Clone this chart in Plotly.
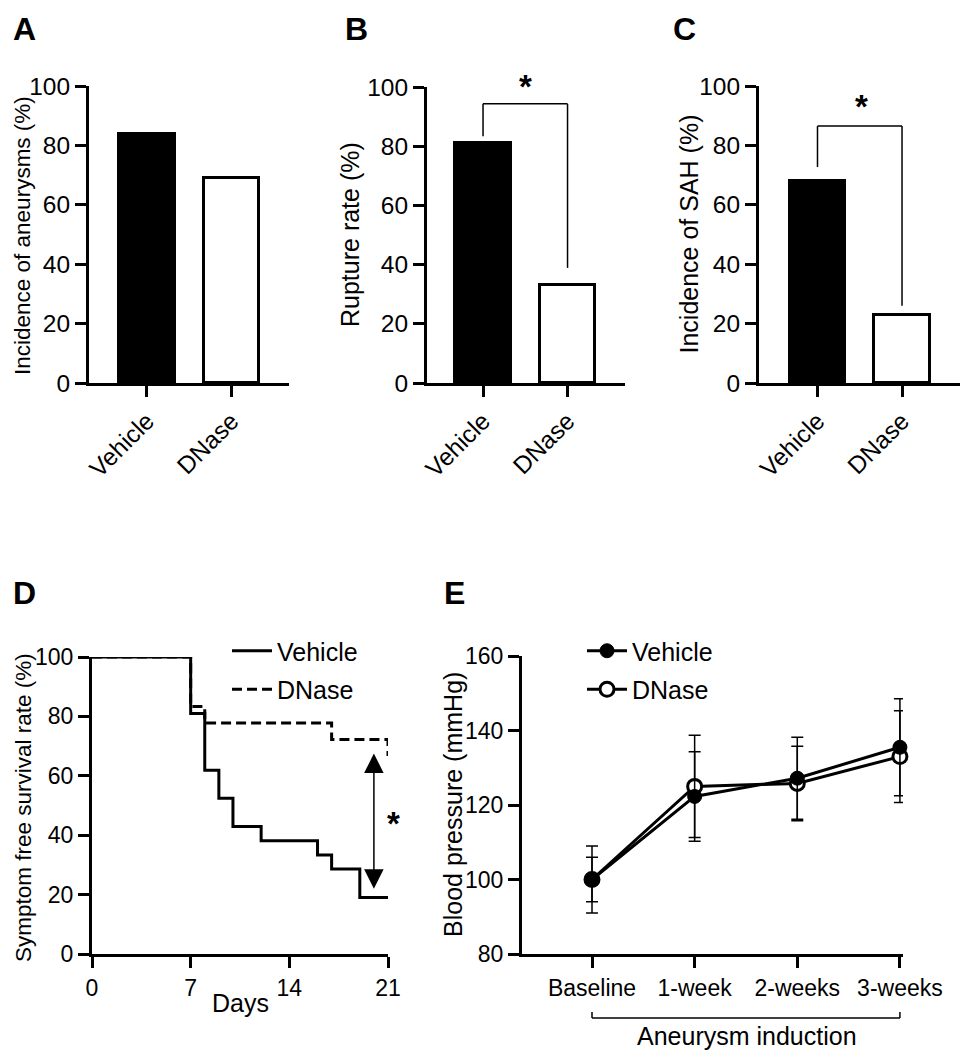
import plotly.graph_objects as go

# ---------------- data ----------------
groups = ["Vehicle", "DNase"]
aneurysm_incidence = [84, 69]
rupture_rate = [81, 33]
sah_incidence = [68, 23]

# significance brackets: [left leg bottom, top, right leg bottom] (% units)
bracket_B = [83.4, 94.3, 38.9]
bracket_C = [72.7, 86.5, 26.0]

vehicle_days = [0, 7, 8, 9, 10, 12, 16, 17, 19, 21]
vehicle_survival = [100, 81.0, 61.9, 52.4, 42.9, 38.1, 33.3, 28.6, 19.0, 19.0]
dnase_days = [0, 7, 8, 17, 21]
dnase_survival = [100, 83.3, 77.8, 72.2, 66.7]
day_ticks = [0, 7, 14, 21]
arrow_day = 20
arrow_span = [22, 68]

timepoints = ["Baseline", "1-week", "2-weeks", "3-weeks"]
bp_vehicle = [100, 122.3, 127.2, 135.5]
bp_vehicle_sd = [9, 12, 11, 13]
bp_dnase = [100, 125.0, 125.8, 133.0]
bp_dnase_sd = [6, 13.7, 10, 12.3]

# ---------------- helpers ----------------
W, H = 971, 1050
OFF = 8  # page body margin
FONT = "Liberation Sans, Arial, sans-serif"


def px(x):
    return (x - OFF) / W


def py(y):
    return 1 - (y - OFF) / H


def axis_style(size):
    return dict(
        showline=True, linecolor="black", linewidth=3, ticks="outside", ticklen=11,
        tickwidth=2.5, tickcolor="black", showgrid=False, zeroline=False,
        tickfont=dict(size=size, color="black", family=FONT), fixedrange=True,
    )


fig = go.Figure()

bar_panels = [
    (aneurysm_incidence, "x", "y", [89, 289], [86, 383], [-0.686, 1.68]),
    (rupture_rate, "x2", "y2", [427, 625], [87, 383], [-0.663, 1.68]),
    (sah_incidence, "x3", "y3", [759, 960], [86, 383], [-0.692, 1.686]),
]
layout_axes = {}
xpos = list(range(len(groups)))
for vals, xa, ya, xdom, ydom, xr in bar_panels:
    fig.add_trace(go.Bar(
        x=xpos, y=vals, width=0.66, xaxis=xa, yaxis=ya, showlegend=False,
        marker=dict(color=["black", "white"], line=dict(color="black", width=3)),
    ))
    xname = "xaxis" + xa[1:]
    yname = "yaxis" + ya[1:]
    layout_axes[xname] = dict(axis_style(24.5), domain=[px(xdom[0]), px(xdom[1])], range=xr,
                              tickvals=xpos, ticktext=groups, tickangle=-45, anchor=ya)
    layout_axes[yname] = dict(axis_style(24.5), domain=[py(ydom[1]), py(ydom[0])], range=[0, 100],
                              dtick=20, anchor=xa)

# ---- D: survival ----
fig.add_trace(go.Scatter(
    x=vehicle_days, y=vehicle_survival, mode="lines", line=dict(color="black", width=3, shape="hv"),
    name="Vehicle", xaxis="x4", yaxis="y4", legend="legend", legendgroup="v", legendrank=1,
    cliponaxis=False,
))
fig.add_trace(go.Scatter(
    x=dnase_days, y=dnase_survival, mode="lines",
    line=dict(color="black", width=3, shape="hv", dash="10px,5px"),
    name="DNase", xaxis="x4", yaxis="y4", legend="legend", legendgroup="d", legendrank=2,
    cliponaxis=False,
))
layout_axes["xaxis4"] = dict(axis_style(23), domain=[px(92), px(388)], range=[0, 21],
                             tickvals=day_ticks, anchor="y4")
layout_axes["yaxis4"] = dict(axis_style(23), domain=[py(954), py(657)], range=[0, 100],
                             dtick=20, anchor="x4")

# ---- E: blood pressure ----
tpos = list(range(len(timepoints)))
fig.add_trace(go.Scatter(
    x=tpos, y=bp_dnase, mode="lines+markers", name="DNase",
    line=dict(color="black", width=3),
    marker=dict(symbol="circle", size=14, color="white", line=dict(color="black", width=3)),
    error_y=dict(type="data", array=bp_dnase_sd, color="black", thickness=1.5, width=6),
    xaxis="x5", yaxis="y5", legend="legend2", legendgroup="d2", legendrank=2, cliponaxis=False,
))
fig.add_trace(go.Scatter(
    x=tpos, y=bp_vehicle, mode="lines+markers", name="Vehicle",
    line=dict(color="black", width=3),
    marker=dict(symbol="circle", size=14, color="black", line=dict(color="black", width=1)),
    error_y=dict(type="data", array=bp_vehicle_sd, color="black", thickness=1.5, width=6),
    xaxis="x5", yaxis="y5", legend="legend2", legendgroup="v2", legendrank=1, cliponaxis=False,
))
layout_axes["xaxis5"] = dict(axis_style(23), domain=[px(522), px(903)], range=[-0.682, 3.03],
                             tickvals=tpos, ticktext=timepoints, anchor="y5")
layout_axes["yaxis5"] = dict(axis_style(23), domain=[py(954), py(656)], range=[80, 160],
                             dtick=20, anchor="x5")

# ---------------- shapes ----------------
shapes = []
for br, xa, ya in [(bracket_B, "x2", "y2"), (bracket_C, "x3", "y3")]:
    ln = dict(color="black", width=1.5)
    shapes.append(dict(type="line", xref=xa, yref=ya, x0=0, x1=0, y0=br[0], y1=br[1], line=ln))
    shapes.append(dict(type="line", xref=xa, yref=ya, x0=0, x1=1, y0=br[1], y1=br[1], line=ln))
    shapes.append(dict(type="line", xref=xa, yref=ya, x0=1, x1=1, y0=br[1], y1=br[2], line=ln))
# aneurysm induction bracket
ln = dict(color="black", width=1.5)
shapes.append(dict(type="line", xref="x5", yref="paper", x0=0, x1=tpos[-1], y0=py(1018), y1=py(1018), line=ln))
shapes.append(dict(type="line", xref="x5", yref="paper", x0=0, x1=0, y0=py(1018), y1=py(1012), line=ln))
shapes.append(dict(type="line", xref="x5", yref="paper", x0=tpos[-1], x1=tpos[-1], y0=py(1018), y1=py(1012), line=ln))

# ---------------- annotations ----------------
ann = []


def text(x, y, s, size=25, angle=0, bold=False):
    ann.append(dict(x=px(x), y=py(y), xref="paper", yref="paper", text=("<b>%s</b>" % s) if bold else s,
                    showarrow=False, textangle=angle, xanchor="center", yanchor="middle",
                    font=dict(size=size, color="black", family=FONT)))


text(23, 236, "Incidence of aneurysms (%)", size=22.5, angle=-90)
text(350, 235, "Rupture rate (%)", angle=-90)
text(688, 234.5, "Incidence of SAH (%)", angle=-90)
text(23, 808, "Symptom free survival rate (%)", size=22.5, angle=-90)
text(453, 805, "Blood pressure (mmHg)", angle=-90)
text(240, 1003, "Days")
text(747, 1036, "Aneurysm induction")

for lab, x, y in [("A", 24, 29), ("B", 356, 29), ("C", 684, 29), ("D", 24, 593), ("E", 454, 593)]:
    text(x, y, lab, size=32, bold=True)

# stars
text(525, 86, "*", size=33, bold=True)
text(861, 106, "*", size=33, bold=True)
text(393, 823, "*", size=33, bold=True)

# survival difference arrow
ann.append(dict(x=arrow_day, y=arrow_span[0], ax=arrow_day, ay=arrow_span[1], xref="x4", yref="y4",
                axref="x4", ayref="y4", text="", showarrow=True, arrowhead=2, startarrowhead=2,
                arrowside="end+start", arrowsize=2.6, startarrowsize=2.6, arrowwidth=1.5,
                arrowcolor="black", standoff=0, startstandoff=0))

legend_common = dict(font=dict(size=25, color="black", family=FONT), bgcolor="rgba(0,0,0,0)",
                     xanchor="left", yanchor="top", tracegroupgap=3, itemwidth=40,
                     traceorder="grouped")

fig.update_layout(
    width=W, height=H, margin=dict(l=0, r=0, t=0, b=0, autoexpand=False),
    paper_bgcolor="white", plot_bgcolor="white",
    font=dict(family=FONT, color="black"),
    shapes=shapes, annotations=ann, bargap=0,
    legend=dict(legend_common, x=px(227), y=py(628)),
    legend2=dict(legend_common, x=px(582), y=py(628)),
    **layout_axes,
)

fig.write_html("out.html")
